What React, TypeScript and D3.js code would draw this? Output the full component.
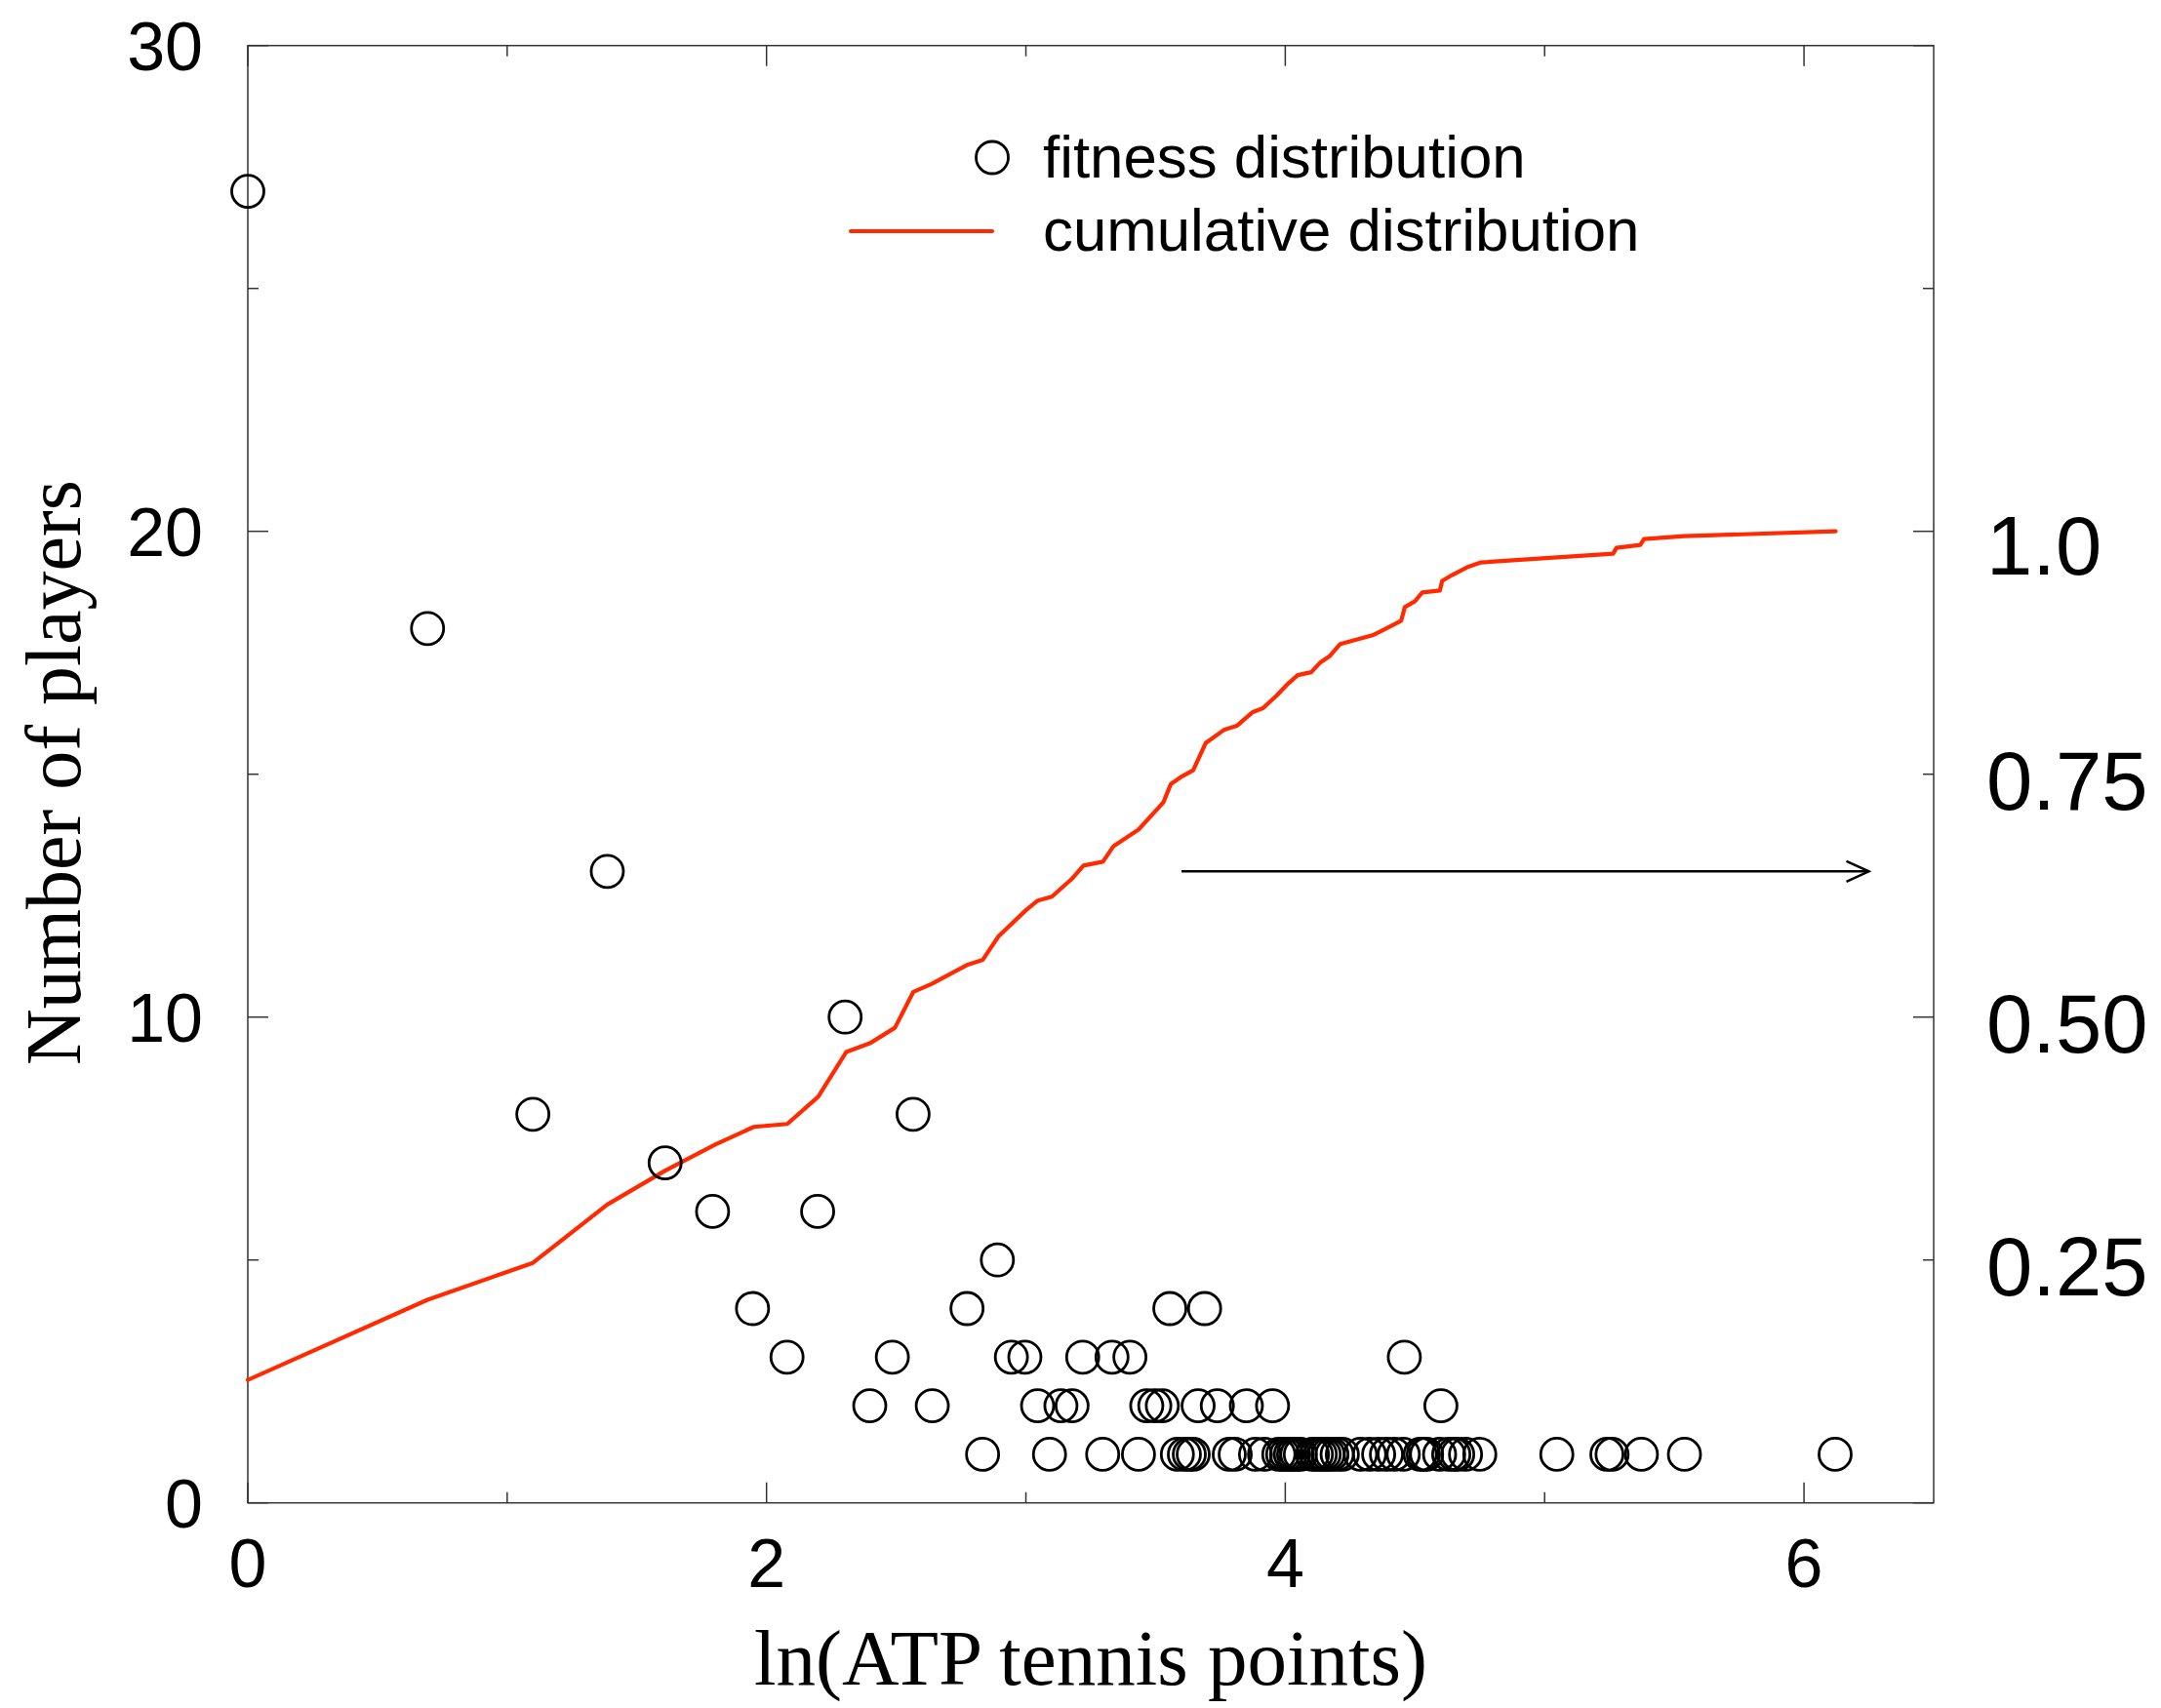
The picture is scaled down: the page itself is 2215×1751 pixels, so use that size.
import React from 'react';
import * as d3 from 'd3';

// fitness distribution: ln(points) and number of players at that value
const fitnessX = [
  0, 0.693, 1.099, 1.386, 1.609, 1.792, 1.946, 2.079, 2.197, 2.303,
  2.398, 2.485, 2.565, 2.639, 2.773, 2.833, 2.89, 2.944, 2.996, 3.045,
  3.091, 3.135, 3.178, 3.219, 3.296, 3.332, 3.401, 3.434, 3.466, 3.497,
  3.526, 3.555, 3.584, 3.611, 3.63, 3.645, 3.664, 3.689, 3.738, 3.784,
  3.807, 3.85, 3.885, 3.92, 3.951, 3.975, 3.99, 4.005, 4.02, 4.032,
  4.045, 4.058, 4.105, 4.12, 4.135, 4.15, 4.165, 4.18, 4.2, 4.22,
  4.29, 4.325, 4.36, 4.39, 4.42, 4.455, 4.459, 4.52, 4.532, 4.545,
  4.595, 4.6, 4.63, 4.65, 4.665, 4.695, 4.75, 5.047, 5.24, 5.26,
  5.373, 5.539, 6.12,
];
const fitnessCount = [
  27, 18, 8, 13, 7, 6, 4, 3, 6, 10,
  2, 3, 8, 2, 4, 1, 5, 3, 3, 2,
  1, 2, 2, 3, 1, 3, 3, 1, 2, 2,
  2, 4, 1, 1, 1, 1, 2, 4, 2, 1,
  1, 2, 1, 1, 2, 1, 1, 1, 1, 1,
  1, 1, 1, 1, 1, 1, 1, 1, 1, 1,
  1, 1, 1, 1, 1, 1, 3, 1, 1, 1,
  1, 2, 1, 1, 1, 1, 1, 1, 1, 1,
  1, 1, 1,
];

// cumulative distribution (right axis)
const cumX = [
  0, 0.693, 1.099, 1.386, 1.609, 1.804, 1.951, 2.08, 2.199, 2.307,
  2.398, 2.495, 2.566, 2.635, 2.776, 2.834, 2.894, 3.0, 3.046, 3.1,
  3.176, 3.222, 3.297, 3.338, 3.434, 3.53, 3.559, 3.597, 3.645, 3.693,
  3.766, 3.814, 3.875, 3.914, 3.967, 4.01, 4.048, 4.1, 4.135, 4.173,
  4.212, 4.336, 4.374, 4.447, 4.461, 4.5, 4.528, 4.596, 4.605, 4.643,
  4.701, 4.755, 5.264, 5.277, 5.369, 5.383, 5.536, 6.122,
];
const cumFrac = [
  0.1265, 0.209, 0.247, 0.307, 0.342, 0.369, 0.387, 0.39, 0.418, 0.464,
  0.473, 0.489, 0.526, 0.534, 0.554, 0.559, 0.583, 0.61, 0.62, 0.624,
  0.642, 0.656, 0.66, 0.676, 0.693, 0.721, 0.74, 0.747, 0.754, 0.782,
  0.796, 0.8, 0.814, 0.818, 0.831, 0.843, 0.852, 0.855, 0.865, 0.872,
  0.884, 0.893, 0.898, 0.908, 0.922, 0.928, 0.937, 0.939, 0.949, 0.955,
  0.963, 0.968, 0.977, 0.983, 0.986, 0.992, 0.995, 1.0,
];

const xMajorTicks = [0, 2, 4, 6];
const xMinorTicks = [1, 3, 5];
const yMajorTicks = [0, 10, 20, 30];
const yMinorTicks = [5, 15, 25];
const rightTickValues = [1.0, 0.75, 0.5, 0.25];
const rightTickLabels = ['1.0', '0.75', '0.50', '0.25'];

const W = 2215;
const H = 1751;
const left = 254;
const right = 1982;
const top = 46.7;
const bottom = 1540.7;

const RED = '#ff2a00';
const AXIS = '#333';
const SANS = '"Liberation Sans", Arial, Helvetica, sans-serif';
const SERIF = '"Liberation Serif", "Times New Roman", serif';

export default function App() {
  const x = d3.scaleLinear().domain([0, 6.5]).range([left, right]);
  const y = d3.scaleLinear().domain([0, 30]).range([bottom, top]);
  const yRight = d3.scaleLinear().domain([0, 1.5]).range([bottom, top]);

  const cumLine = d3
    .line<number>()
    .x((d, i) => x(cumX[i]))
    .y((d) => yRight(d));

  const majorLen = 21;
  const minorLen = 11;

  // arrow pointing to the right-hand axis
  const arrowY = y(13);
  const arrowX0 = x(3.6);
  const arrowX1 = x(6.25);

  return (
    <svg
      width={W}
      height={H}
      style={{ position: 'absolute', left: 0, top: 0, background: '#fff' }}
    >
      {/* frame */}
      <rect
        x={left}
        y={top}
        width={right - left}
        height={bottom - top}
        fill="none"
        stroke={AXIS}
        strokeWidth={1.5}
      />

      {/* x ticks, bottom and top */}
      {xMajorTicks.map((t) => (
        <g key={'xM' + t}>
          <line x1={x(t)} x2={x(t)} y1={bottom} y2={bottom - majorLen} stroke={AXIS} strokeWidth={1.5} />
          <line x1={x(t)} x2={x(t)} y1={top} y2={top + majorLen} stroke={AXIS} strokeWidth={1.5} />
          <text
            x={x(t)}
            y={1627}
            textAnchor="middle"
            fontFamily={SANS}
            fontSize={70}
            fill="#000"
          >
            {t}
          </text>
        </g>
      ))}
      {xMinorTicks.map((t) => (
        <g key={'xm' + t}>
          <line x1={x(t)} x2={x(t)} y1={bottom} y2={bottom - minorLen} stroke={AXIS} strokeWidth={1.5} />
          <line x1={x(t)} x2={x(t)} y1={top} y2={top + minorLen} stroke={AXIS} strokeWidth={1.5} />
        </g>
      ))}

      {/* y ticks, left and right */}
      {yMajorTicks.map((t) => (
        <g key={'yM' + t}>
          <line x1={left} x2={left + majorLen} y1={y(t)} y2={y(t)} stroke={AXIS} strokeWidth={1.5} />
          <line x1={right} x2={right - majorLen} y1={y(t)} y2={y(t)} stroke={AXIS} strokeWidth={1.5} />
          <text
            x={208}
            y={y(t) + 25}
            textAnchor="end"
            fontFamily={SANS}
            fontSize={70}
            fill="#000"
          >
            {t}
          </text>
        </g>
      ))}
      {yMinorTicks.map((t) => (
        <g key={'ym' + t}>
          <line x1={left} x2={left + minorLen} y1={y(t)} y2={y(t)} stroke={AXIS} strokeWidth={1.5} />
          <line x1={right} x2={right - minorLen} y1={y(t)} y2={y(t)} stroke={AXIS} strokeWidth={1.5} />
        </g>
      ))}

      {/* right axis labels */}
      {rightTickValues.map((v, i) => (
        <text
          key={'r' + v}
          x={2036}
          y={yRight(v) + (v === 1 ? 44 : 36)}
          textAnchor="start"
          fontFamily={SANS}
          fontSize={85}
          fill="#000"
        >
          {rightTickLabels[i]}
        </text>
      ))}

      {/* axis titles */}
      <text
        x={1118}
        y={1727}
        textAnchor="middle"
        fontFamily={SERIF}
        fontSize={81}
        fill="#000"
      >
        ln(ATP tennis points)
      </text>
      <text
        transform="translate(82,792) rotate(-90)"
        textAnchor="middle"
        fontFamily={SERIF}
        fontSize={80}
        fill="#000"
      >
        Number of players
      </text>

      {/* cumulative distribution */}
      <path
        d={cumLine(cumFrac) || ''}
        fill="none"
        stroke={RED}
        strokeWidth={4.2}
        strokeLinejoin="round"
        strokeLinecap="round"
      />

      {/* fitness distribution */}
      {fitnessX.map((v, i) => (
        <circle
          key={'c' + i}
          cx={x(v)}
          cy={y(fitnessCount[i])}
          r={16.5}
          fill="none"
          stroke="#000"
          strokeWidth={2.8}
        />
      ))}

      {/* arrow */}
      <line x1={arrowX0} x2={arrowX1} y1={arrowY} y2={arrowY} stroke="#000" strokeWidth={2.5} />
      <polyline
        points={`${arrowX1 - 23},${arrowY - 10.5} ${arrowX1},${arrowY} ${arrowX1 - 23},${arrowY + 10.5}`}
        fill="none"
        stroke="#000"
        strokeWidth={2.5}
      />

      {/* legend */}
      <circle cx={1017} cy={161.5} r={16.5} fill="none" stroke="#000" strokeWidth={2.8} />
      <text x={1069} y={181.7} fontFamily={SANS} fontSize={61.8} fill="#000">
        fitness distribution
      </text>
      <line x1={872} x2={1017} y1={237} y2={237} stroke={RED} strokeWidth={4.2} strokeLinecap="round" />
      <text x={1069} y={256.7} fontFamily={SANS} fontSize={61.8} fill="#000">
        cumulative distribution
      </text>
    </svg>
  );
}
